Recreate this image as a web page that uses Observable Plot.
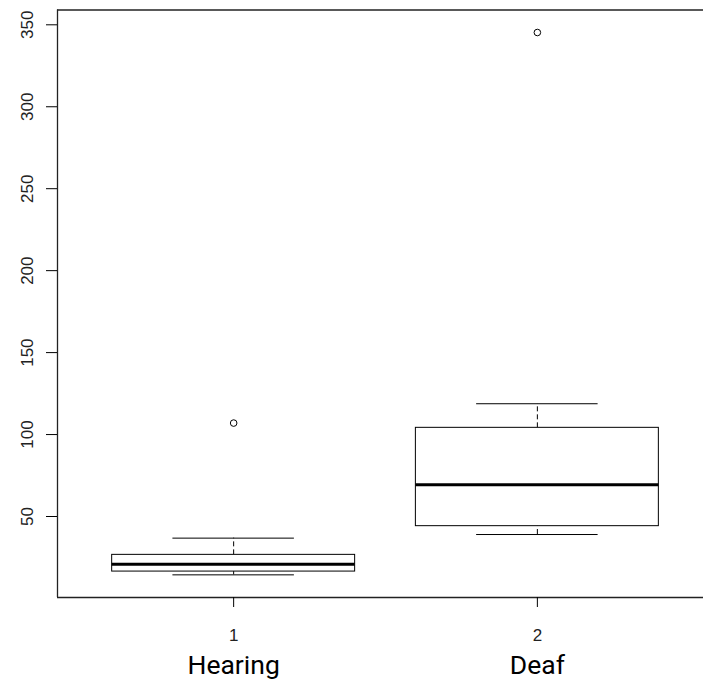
<!DOCTYPE html>
<html>
<head>
<meta charset="utf-8">
<script src="https://cdn.jsdelivr.net/npm/d3@7"></script>
<script src="https://cdn.jsdelivr.net/npm/@observablehq/plot@0.6"></script>
<style>
  html, body { margin: 0; padding: 0; background: #fff; }
  #chart svg { display: block; }
</style>
</head>
<body>
<div id="chart"></div>
<script>
// Data
const groups = ["Hearing", "Deaf"];
const positions = [1, 2];
const lowerWhisker = [14.4, 39.0];
const q1 = [16.4, 44.1];
const median = [20.9, 69.3];
const q3 = [26.6, 104.1];
const upperWhisker = [36.8, 118.8];
const outlierGroup = [1, 2];
const outlierValue = [107.0, 345.3];
const yTicks = [50, 100, 150, 200, 250, 300, 350];
const xTicks = [1, 2];

const boxes = positions.map((p, i) => ({
  pos: p, group: groups[i], lo: lowerWhisker[i], q1: q1[i], med: median[i], q3: q3[i], hi: upperWhisker[i]
}));
const outliers = outlierGroup.map((g, i) => ({pos: g, value: outlierValue[i]}));

const yDomain = [0.58, 359.03];
const xDomain = [0.42, 2.547];
const tickFont = "'Liberation Sans', Arial, sans-serif";

const chart = Plot.plot({
  width: 703,
  height: 679,
  marginLeft: 57,
  marginRight: 0,
  marginTop: 9.5,
  marginBottom: 82,
  style: {fontFamily: tickFont, color: "#000", background: "#fff"},
  x: {type: "linear", domain: xDomain},
  y: {type: "linear", domain: yDomain},
  marks: [
    // box frame (left, top, bottom; right edge lies beyond the window)
    Plot.ruleY(yDomain, {stroke: "#222", strokeWidth: 1.3}),
    Plot.ruleX([xDomain[0]], {stroke: "#222", strokeWidth: 1.3}),
    // whiskers (dashed)
    Plot.ruleX(boxes, {x: "pos", y1: "q3", y2: "hi", stroke: "#000", strokeDasharray: "5,3"}),
    Plot.ruleX(boxes, {x: "pos", y1: "lo", y2: "q1", stroke: "#000", strokeDasharray: "5,3"}),
    // whisker caps
    Plot.ruleY(boxes, {y: "hi", x1: d => d.pos - 0.2, x2: d => d.pos + 0.2, stroke: "#000"}),
    Plot.ruleY(boxes, {y: "lo", x1: d => d.pos - 0.2, x2: d => d.pos + 0.2, stroke: "#000"}),
    // boxes
    Plot.rect(boxes, {x1: d => d.pos - 0.4, x2: d => d.pos + 0.4, y1: "q1", y2: "q3", fill: "#fff", stroke: "#000", strokeWidth: 1}),
    // medians
    Plot.ruleY(boxes, {y: "med", x1: d => d.pos - 0.4, x2: d => d.pos + 0.4, stroke: "#000", strokeWidth: 3}),
    // outliers
    Plot.dot(outliers, {x: "pos", y: "value", r: 3.3, stroke: "#000", strokeWidth: 1, fill: "none"}),
    // axis ticks
    Plot.axisY(yTicks, {ticks: yTicks, tickSize: 11, tickFormat: () => "", label: null, stroke: "#000"}),
    Plot.axisX(xTicks, {ticks: xTicks, tickSize: 10, tickFormat: () => "", label: null, stroke: "#000"}),
    // y tick labels (rotated, as in R)
    Plot.text(yTicks, {
      y: d => d, text: d => String(d), frameAnchor: "left", dx: -24.3,
      rotate: -90, textAnchor: "middle", lineAnchor: "bottom",
      fontSize: 17, fontFamily: tickFont, fill: "#222"
    }),
    // x tick labels
    Plot.text(xTicks, {
      x: d => d, text: d => String(d), frameAnchor: "bottom", dy: 31.6,
      textAnchor: "middle", lineAnchor: "top",
      fontSize: 17, fontFamily: tickFont, fill: "#222"
    }),
    // group names
    Plot.text(boxes, {
      x: "pos", text: "group", frameAnchor: "bottom", dy: 76.5,
      lineAnchor: "bottom", textAnchor: "middle",
      fontSize: 26.5, fontFamily: "Roboto, 'Open Sans', sans-serif", fill: "#000"
    })
  ]
});
document.getElementById("chart").appendChild(chart);
</script>
</body>
</html>
